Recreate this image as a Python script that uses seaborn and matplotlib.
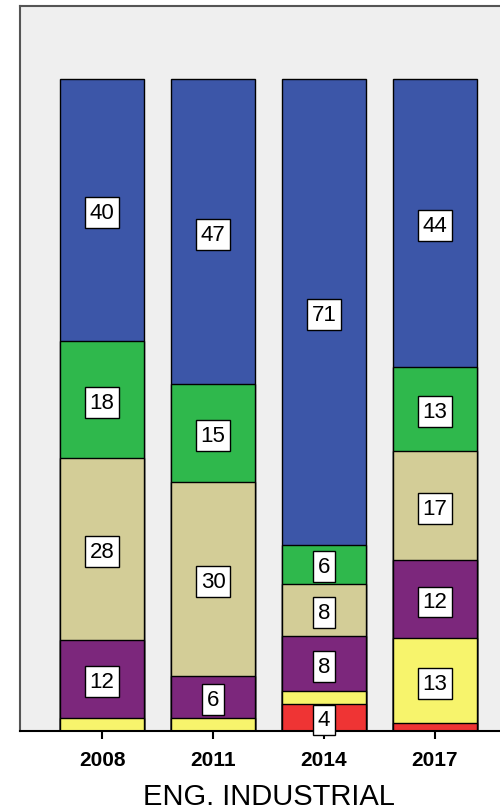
import numpy as np
import seaborn as sns
import matplotlib
matplotlib.use("Agg")
import matplotlib.pyplot as plt

# data (percent of each year, bottom to top)
years = ["2008", "2011", "2014", "2017"]
red = [0.0, 0.0, 4.2, 1.2]
yellow = [2.0, 2.0, 2.0, 13.0]
purple = [12.0, 6.4, 8.3, 12.0]
tan = [27.8, 29.8, 8.1, 16.7]
green = [18.0, 15.0, 6.0, 13.0]
blue = [40.2, 46.8, 71.4, 44.1]
title = "ENG. INDUSTRIAL"

segments = [red, yellow, purple, tan, green, blue]
colors = ["#ef3434", "#f7f46c", "#7c277c", "#d3cd97", "#2fb84c", "#3c56a8"]

sns.set_theme(style="white")
plt.rcParams["font.family"] = ["Liberation Sans", "DejaVu Sans"]

fig = plt.figure(figsize=(5, 8.12), dpi=100)
ax = fig.add_axes([0.04, 0.0985, 0.994, 0.893])
ax.set_facecolor("#efefef")

cum = np.cumsum(np.array(segments), axis=0)

# classic seaborn stacking: draw the tallest cumulative layer first
for i in range(len(segments) - 1, -1, -1):
    sns.barplot(x=years, y=cum[i], color=colors[i], ax=ax, width=0.757,
                edgecolor="black", linewidth=1, saturation=1, errorbar=None)

# value boxes
for j in range(len(years)):
    for i, seg in enumerate(segments):
        v = seg[j]
        if v < 3:
            continue
        mid = cum[i][j] - v / 2
        ax.text(j, mid - 0.4, f"{round(v):d}", ha="center", va="center", fontsize=16,
                color="black",
                bbox=dict(boxstyle="square,pad=0.22", fc="white", ec="black", lw=1))

ax.set_xlim(-0.739, 3.739)
ax.set_ylim(0, 111.2)
ax.set_yticks([])
ax.set_ylabel("")
ax.set_xlabel(title, fontsize=21, labelpad=9, color="black")
ax.tick_params(axis="x", bottom=True, direction="out", length=6, width=1.5,
               color="black", labelcolor="black", pad=8, labelsize=15)
for lab in ax.get_xticklabels():
    lab.set_fontweight("bold")

for s in ["left", "top", "right"]:
    ax.spines[s].set_color("#555555")
    ax.spines[s].set_linewidth(1.5)
ax.spines["bottom"].set_color("black")
ax.spines["bottom"].set_linewidth(1.5)

fig.savefig("out.png", dpi=100, facecolor="white")
